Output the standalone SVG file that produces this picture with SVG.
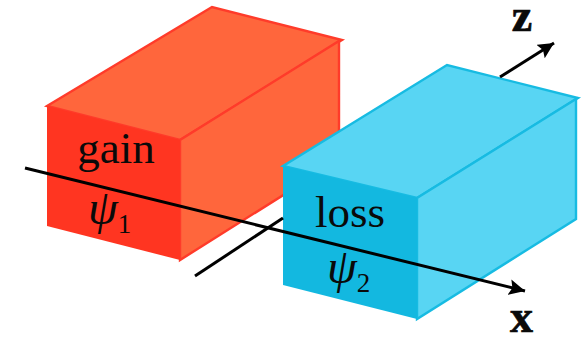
<svg xmlns="http://www.w3.org/2000/svg" width="585" height="337" viewBox="0 0 585 337">
<style>
.t{font-family:"Liberation Serif","Times New Roman",serif;fill:#0a0a0a}
.l{font-size:45px}
.psi{font-size:48px;font-style:italic}
.sub{font-size:27px}
.b{font-size:46px;font-weight:bold;stroke:#0a0a0a;stroke-width:.7}
.ax{stroke:#000;stroke-width:3;fill:none}
.rf{fill:#ff3521}.rs{fill:#ff663c;stroke:#ff3b2a;stroke-width:2.4;stroke-linejoin:miter}
.bf{fill:#13b8e0}.bs{fill:#58d5f3;stroke:#17bbe2;stroke-width:2.4}
</style>
<defs>
<marker id="arrow" markerUnits="userSpaceOnUse" markerWidth="18" markerHeight="16" refX="16" refY="8" orient="auto"><path d="M0 0L16 8L0 16L3 8Z" fill="#000"/></marker>
</defs>
<g id="gain-box">
<path class="rs" d="M47 106L212 7L342 40L180 140Z"/>
<path class="rs" d="M180 140L339 41V160L180 260Z"/>
<path class="rf" d="M47 106L180 140V260L47 226Z"/>
<text class="t l" x="116" y="163" text-anchor="middle">gain</text>
<text class="t" x="88" y="224"><tspan class="psi">ψ</tspan><tspan class="sub" dy="9">1</tspan></text>
</g>
<g id="loss-box">
<path class="bs" d="M283 166L447 65L578 98L417 198Z"/>
<path class="bs" d="M417 198L576 99V219L417 319Z"/>
<path class="bf" d="M283 166L417 198V319L283 285Z"/>
<text class="t l" x="350" y="227" text-anchor="middle">loss</text>
<text class="t" x="327" y="283"><tspan class="psi">ψ</tspan><tspan class="sub" dy="9">2</tspan></text>
</g>
<g id="connectors">
<path class="ax" d="M195 276L283 218"/>
<path class="ax" d="M500 77L554 43" marker-end="url(#arrow)"/>
<path class="ax" d="M25 168L525 291" marker-end="url(#arrow)"/>
</g>
<g id="axis-labels">
<text class="t b" x="522" y="31" text-anchor="middle">z</text>
<text class="t b" x="521.5" y="332" text-anchor="middle">x</text>
</g>
</svg>
